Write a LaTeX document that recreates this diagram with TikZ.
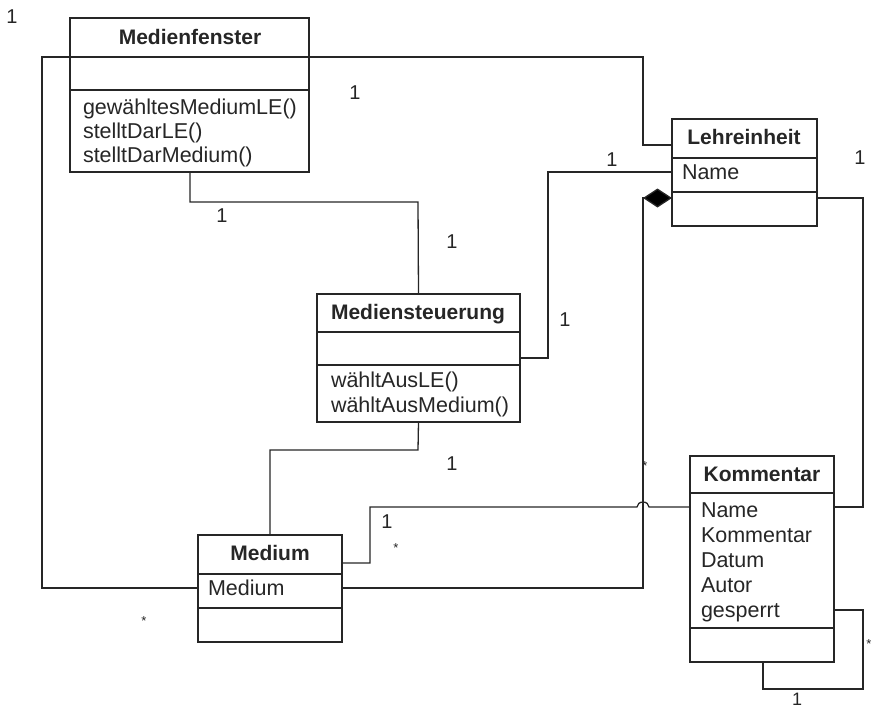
\documentclass[tikz,border=0pt]{standalone}
\usepackage{fontspec}
\setmainfont{Liberation Sans}
\usetikzlibrary{arrows.meta}
\begin{document}
\begin{tikzpicture}[x=1pt,y=-1pt,
  every node/.style={inner sep=0pt, outer sep=0pt, text=black!85},
  cls/.style={draw=black!85, line width=1.3pt, anchor=north west, fill=white},
  sep/.style={draw=black!85, line width=1.3pt},
  conn/.style={draw=black!85, line width=1.3pt},
  title/.style={anchor=base, font=\fontsize{21}{25}\selectfont\bfseries},
  attr/.style={anchor=base west, font=\fontsize{21.5}{25}\selectfont},
  mult/.style={font=\fontsize{20}{24}\selectfont},
  many/.style={anchor=base, font=\fontsize{13}{15}\selectfont}]
\useasboundingbox (0,0) rectangle (873,709);

% class boxes
\node[cls, minimum width=239pt, minimum height=154pt] (mf) at (70,18) {};
\node[cls, minimum width=145pt, minimum height=107pt] (le) at (672,119) {};
\node[cls, minimum width=203pt, minimum height=128pt] (ms) at (317,294) {};
\node[cls, minimum width=144pt, minimum height=107pt] (md) at (198,535) {};
\node[cls, minimum width=144pt, minimum height=206pt] (ko) at (690,456) {};

% Medium -- Lehreinheit, long loop round Medienfenster
\draw[conn] (md.west |- 0,588) -- (42,588) -- (42,57) -- (643,57) -- (643,145) -- (le.west |- 0,145);
% Lehreinheit -- Mediensteuerung
\draw[conn] (le.west |- 0,172) -- (548,172) -- (548,358) -- (ms.east |- 0,358);
% Medienfenster -- Mediensteuerung
\draw[conn] (mf.south -| 190,0) -- (190,202) -- (418,202) -- (ms.north);
% Mediensteuerung -- Medium
\draw[conn] (ms.south) -- (418,450) -- (270,450) -- (md.north -| 270,0);
% Medium -- Kommentar (with a hop over the composition line)
\draw[conn] (md.east |- 0,563) -- (370,563) -- (370,507) -- (637,507)
  arc[start angle=180, end angle=0, x radius=6pt, y radius=5pt] -- (ko.west |- 0,507);
% Medium -- Lehreinheit (composition)
\draw[conn, line join=miter, -{Diamond[length=29pt,width=19pt,fill=black]}]
  (md.east |- 0,588) -- (643,588) -- (643,198) -- (le.west |- 0,198);
% Lehreinheit -- Kommentar
\draw[conn] (le.east |- 0,198) -- (863,198) -- (863,507) -- (ko.east |- 0,507);
% Kommentar self association
\draw[conn] (ko.east |- 0,610) -- (863,610) -- (863,689) -- (763,689) -- (ko.south -| 763,0);

% compartment separators
\draw[sep] (mf.west |- 0,57) -- (mf.east |- 0,57);
\draw[sep] (mf.west |- 0,90) -- (mf.east |- 0,90);
\draw[sep] (le.west |- 0,158) -- (le.east |- 0,158);
\draw[sep] (le.west |- 0,192) -- (le.east |- 0,192);
\draw[sep] (ms.west |- 0,332) -- (ms.east |- 0,332);
\draw[sep] (ms.west |- 0,365) -- (ms.east |- 0,365);
\draw[sep] (md.west |- 0,574) -- (md.east |- 0,574);
\draw[sep] (md.west |- 0,608) -- (md.east |- 0,608);
\draw[sep] (ko.west |- 0,493) -- (ko.east |- 0,493);
\draw[sep] (ko.west |- 0,628) -- (ko.east |- 0,628);

% class texts
\node[title] (mf-t) at (190,44.5) {Medienfenster};
\node[attr] (mf-a) at (83,114.5) {gewähltesMediumLE()};
\node[attr] (mf-b) at (83,138.5) {stelltDarLE()};
\node[attr] (mf-c) at (83,162.5) {stelltDarMedium()};

\node[title] (le-t) at (744,144.5) {Lehreinheit};
\node[attr] (le-a) at (682,179.5) {Name};

\node[title] (ms-t) at (418,319.5) {Mediensteuerung};
\node[attr] (ms-a) at (331,387.5) {wähltAusLE()};
\node[attr] (ms-b) at (331,412.5) {wähltAusMedium()};

\node[title] (md-t) at (270,560.5) {Medium};
\node[attr] (md-a) at (208,595.5) {Medium};

\node[title] (ko-t) at (762,481.5) {Kommentar};
\node[attr] (ko-a) at (701,517.5) {Name};
\node[attr] (ko-b) at (701,542.5) {Kommentar};
\node[attr] (ko-c) at (701,567.5) {Datum};
\node[attr] (ko-d) at (701,592.5) {Autor};
\node[attr] (ko-e) at (701,617) {gesperrt};

% multiplicities
\node[mult] (n1) at (12,17) {1};
\node[mult] (n2) at (355,93) {1};
\node[mult] (n3) at (222,216) {1};
\node[mult] (n4) at (452,242) {1};
\node[mult] (n5) at (612,160) {1};
\node[mult] (n6) at (565,320) {1};
\node[mult] (n7) at (860,158) {1};
\node[mult] (n8) at (452,464) {1};
\node[mult] (n9) at (387,522) {1};
\node[mult, font=\fontsize{18}{22}\selectfont] (n10) at (797,699.5) {1};
\node[many] (s1) at (645,470) {*};
\node[many] (s2) at (396,552) {*};
\node[many] (s3) at (144,625) {*};
\node[many] (s4) at (869,648) {*};
\end{tikzpicture}
\end{document}
